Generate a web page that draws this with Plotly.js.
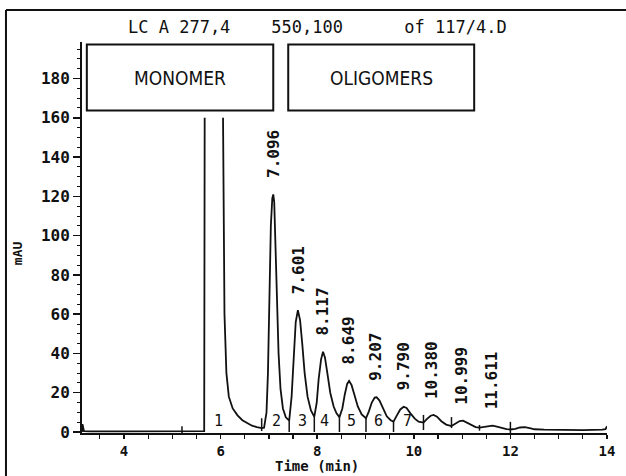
<!DOCTYPE html>
<html><head><meta charset="utf-8">
<script src="https://cdn.plot.ly/plotly-3.0.1.min.js"></script>
<style>html,body{margin:0;padding:0;background:#fff}</style>
</head><body><div id="chart" style="width:626px;height:476px"></div>
<script>
// Chromatogram trace (time in min, signal in mAU); monomer peak is off-scale (clipped at 160)
const time = [3.13,3.14,3.17,3.3,4.0,4.5,5.0,5.5,5.65,5.66,5.67,null,
  6.05,6.08,6.12,6.17,6.25,6.35,6.45,6.55,6.65,6.75,6.85,6.9,6.95,6.98,7.01,7.04,7.07,7.09,7.11,7.14,7.17,7.2,7.24,7.29,7.35,
  7.42,7.47,7.51,7.555,7.6,7.645,7.69,7.74,7.8,7.87,
  7.94,7.99,8.03,8.08,8.12,8.16,8.21,8.27,8.34,8.4,
  8.46,8.52,8.57,8.62,8.66,8.71,8.77,8.84,8.92,
  9.01,9.07,9.13,9.19,9.23,9.29,9.36,9.44,9.52,
  9.58,9.65,9.72,9.79,9.85,9.93,10.02,10.1,
  10.2,10.28,10.35,10.41,10.48,10.57,10.67,
  10.78,10.87,10.95,11.02,11.1,11.2,11.28,
  11.36,11.45,11.55,11.63,11.72,11.82,11.92,
  12.0,12.1,12.2,12.3,12.4,12.5,12.7,13.0,13.5,13.9,13.97,14.0];
const signal = [0,4,0.5,0.3,0.3,0.3,0.3,0.3,0.3,0.5,160,null,
  160,60,30,18,12,8.5,6,4.5,3.2,2.5,2,2.2,10,30,70,105,119,121,117,95,65,40,22,12,7.5,
  5.8,18,38,56,62,57,45,30,18,11,
  7.8,15,27,37,40.9,38,30,20,13,9.5,
  7.6,12,19,24.5,26,24,19,13,9,
  7,10.5,15,17.5,17.7,16,12,8,6,
  5.3,8.5,11.5,12.9,12.3,9.5,6.8,5.3,
  4.8,6.8,8.3,8.7,7.8,5.5,3.8,
  3,4.5,5.6,5.8,4.8,3.3,2.5,
  2.2,2.6,3.1,3.2,2.7,2,1.5,
  1.3,1.6,2.3,2.5,2,1.4,1.2,1.0,1.0,1.2,1.5,3];

// Retention-time labels and peak apex heights
const peakLabels = ['7.096','7.601','8.117','8.649','9.207','9.790','10.380','10.999','11.611'];
const peakApex = [121,62,40.9,26,17.7,12.9,8.7,5.8,3.2];

// Integration peak numbers
const peakNumbers = ['1','2','3','4','5','6','7'];
const peakNumberTime = [5.95,7.15,7.69,8.15,8.7,9.26,9.86];
const peakNumberLevel = [5.6,5.6,5.6,5.6,5.6,5.6,5.6];

// Baseline / valley drop marks
const markTime = [5.2,6.85,7.42,7.94,8.46,9.01,9.58,10.2,10.78,11.36,12.0];
const markLow  = [-2,0.5,0,0,0,0,0,1,2,0.7,-2];
const markHigh = [3,7,5.8,7.8,7.6,7,5.3,8.7,7.6,3.6,5.2];

const yTickVals = [0,20,40,60,80,100,120,140,160,180];
const xTickVals = [4,6,8,10,12,14];

const boxLabels = ['MONOMER','OLIGOMERS'];
const titleText = 'LC A 277,4\u00a0\u00a0\u00a0\u00a0550,100\u00a0\u00a0\u00a0\u00a0\u00a0\u00a0of 117/4.D';

const mono = 'DejaVu Sans Mono, Liberation Mono, monospace';

const mx = [], my = [];
markTime.forEach((t,i)=>{ mx.push(t,t,null); my.push(markLow[i],markHigh[i],null); });

const traces = [
  {x: time, y: signal, type:'scatter', mode:'lines', connectgaps:false,
   line:{color:'#111', width:1.8}, hoverinfo:'skip', cliponaxis:false},
  {x: mx, y: my, type:'scatter', mode:'lines', connectgaps:false,
   line:{color:'#111', width:1.5}, hoverinfo:'skip', cliponaxis:false}
];

const annotations = [];
peakLabels.forEach((lab,i)=>{
  annotations.push({x: parseFloat(lab), y: peakApex[i], xref:'x', yref:'y', text: lab,
    showarrow:false, textangle:-90, xanchor:'center', yanchor:'bottom', yshift:14,
    font:{family:mono, size:16, color:'#111', weight:'bold'}});
});
peakNumbers.forEach((n,i)=>{
  annotations.push({x: peakNumberTime[i], y: peakNumberLevel[i], xref:'x', yref:'y', text:n,
    showarrow:false, xanchor:'center', yanchor:'middle',
    font:{family:mono, size:15, color:'#111'}});
});
annotations.push({x:(3.23+7.09)/2, y:180.5, xref:'x', yref:'y', text:boxLabels[0], showarrow:false,
  font:{family:'Liberation Sans Narrow, DejaVu Sans Condensed, Arial Narrow, sans-serif', size:19, color:'#111'}});
annotations.push({x:(7.40+11.25)/2, y:180.5, xref:'x', yref:'y', text:boxLabels[1], showarrow:false,
  font:{family:'Liberation Sans Narrow, DejaVu Sans Condensed, Arial Narrow, sans-serif', size:19, color:'#111'}});
annotations.push({x:0.0838, y:1.0384, xref:'paper', yref:'paper', text:titleText, showarrow:false,
  xanchor:'left', yanchor:'middle', font:{family:mono, size:17, color:'#111'}});
annotations.push({x:8, y:-0.0844, xref:'x', yref:'paper', text:'Time (min)', showarrow:false,
  xanchor:'center', yanchor:'middle', font:{family:mono, size:14, color:'#111', weight:'bold'}});
annotations.push({x:-0.1238, y:0.46, xref:'paper', yref:'paper', text:'mAU', showarrow:false,
  textangle:-90, xanchor:'center', yanchor:'middle', font:{family:mono, size:13, color:'#111', weight:'bold'}});

const shapes = [
  {type:'rect', xref:'x', yref:'y', x0:3.23, x1:7.09, y0:163.7, y1:197.3, fillcolor:'#fff',
   line:{color:'#111', width:2}, layer:'above'},
  {type:'rect', xref:'x', yref:'y', x0:7.40, x1:11.25, y0:163.7, y1:197.3, fillcolor:'#fff',
   line:{color:'#111', width:2}, layer:'above'},
  {type:'line', xref:'paper', yref:'paper', x0:-0.1448, x1:-0.1448, y0:1.0818, y1:-0.15,
   line:{color:'#111', width:2}},
  {type:'line', xref:'paper', yref:'paper', x0:-0.1448, x1:1.1, y0:1.0818, y1:1.0818,
   line:{color:'#111', width:2}}
];

const layout = {
  width:626, height:476,
  margin:{l:82, r:19, t:42, b:43, pad:0},
  paper_bgcolor:'#fff', plot_bgcolor:'#fff',
  showlegend:false,
  xaxis:{range:[3.13,14], showgrid:false, zeroline:false, showline:true, linecolor:'#111', linewidth:2,
    ticks:'outside', ticklen:4, tickwidth:1.5, tickcolor:'#111', tickvals:xTickVals,
    ticktext:xTickVals.map(String),
    minor:{dtick:0.5, tick0:0, ticks:'outside', ticklen:4, tickwidth:1.2, tickcolor:'#111'},
    tickfont:{family:mono, size:14, color:'#111', weight:'bold'}, fixedrange:true},
  yaxis:{range:[-0.5,198.6], showgrid:false, zeroline:false, showline:true, linecolor:'#111', linewidth:2,
    ticks:'outside', ticklen:7, tickwidth:1.5, tickcolor:'#111', tickvals:yTickVals,
    ticktext:yTickVals.map(String),
    minor:{dtick:5, tick0:0, ticks:'outside', ticklen:3, tickwidth:1, tickcolor:'#111'},
    tickfont:{family:mono, size:16, color:'#111', weight:'bold'}, fixedrange:true},
  annotations: annotations,
  shapes: shapes
};

Plotly.newPlot('chart', traces, layout, {staticPlot:true, displayModeBar:false});
</script>
</body></html>
